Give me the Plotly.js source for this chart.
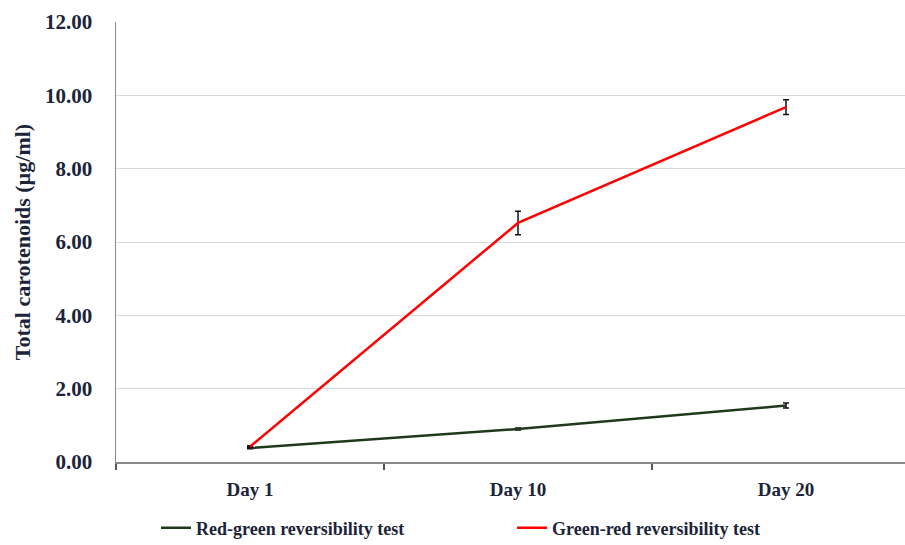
<!DOCTYPE html>
<html>
<head>
<meta charset="utf-8">
<script src="https://cdn.plot.ly/plotly-3.0.1.min.js"></script>
<style>html,body{margin:0;padding:0;background:#fff;}#chart{width:905px;height:545px;}</style>
</head>
<body>
<div id="chart"></div>
<script>
const days = ["Day 1", "Day 10", "Day 20"];
const redGreen = [0.38, 0.90, 1.54];
const redGreenErr = [0.02, 0.03, 0.07];
const greenRed = [0.42, 6.52, 9.68];
const greenRedErr = [0.02, 0.32, 0.20];
const yTickVals = [0, 2, 4, 6, 8, 10, 12];
const yTickText = ["0.00", "2.00", "4.00", "6.00", "8.00", "10.00", "12.00"];

const textColor = "#1b2438";
const fontFam = "Liberation Serif, Times New Roman, serif";

const traces = [
  {
    x: days, y: redGreen, type: "scatter", mode: "lines",
    name: "Red-green reversibility test",
    line: {color: "#1e3a1a", width: 2.5},
    error_y: {type: "data", array: redGreenErr, visible: true, color: "#111", thickness: 1.5, width: 3}
  },
  {
    x: days, y: greenRed, type: "scatter", mode: "lines",
    name: "Green-red reversibility test",
    line: {color: "#ff0000", width: 2.5},
    error_y: {type: "data", array: greenRedErr, visible: true, color: "#111", thickness: 1.5, width: 3}
  }
];

const layout = {
  width: 905, height: 545,
  margin: {l: 116, r: 0, t: 22, b: 83},
  paper_bgcolor: "#fff", plot_bgcolor: "#fff",
  font: {family: fontFam, color: textColor, size: 18, weight: "bold"},
  showlegend: true,
  legend: {
    orientation: "h", xref: "container", x: 156 / 905, xanchor: "left",
    yref: "container", y: 17 / 545, yanchor: "middle",
    font: {family: fontFam, size: 18, color: textColor, weight: "bold"},
    entrywidth: 311, entrywidthmode: "pixels", itemwidth: 30, traceorder: "normal"
  },
  xaxis: {
    type: "category", range: [-0.5, 2.444],
    showgrid: false, zeroline: false,
    showline: true, linecolor: "#8a8a8a", linewidth: 1.5,
    ticks: "outside", tickson: "boundaries", ticklen: 6, tickcolor: "#555", tickwidth: 1.5,
    ticklabelstandoff: 10,
    tickfont: {family: fontFam, size: 19, color: textColor, weight: "bold"},
    automargin: false, fixedrange: true
  },
  yaxis: {
    range: [0, 12], tickvals: yTickVals, ticktext: yTickText,
    showgrid: true, gridcolor: "#d9d9d9", gridwidth: 1,
    zeroline: false, showline: true, linecolor: "#8a8a8a", linewidth: 1.5,
    ticks: "", ticklabelstandoff: 18,
    tickfont: {family: fontFam, size: 21, color: textColor, weight: "bold"},
    title: {text: "Total carotenoids (µg/ml)", standoff: 8,
            font: {family: fontFam, size: 22, color: textColor, weight: "bold"}},
    automargin: false, fixedrange: true
  }
};

Plotly.newPlot("chart", traces, layout, {displayModeBar: false, staticPlot: true});
</script>
</body>
</html>
